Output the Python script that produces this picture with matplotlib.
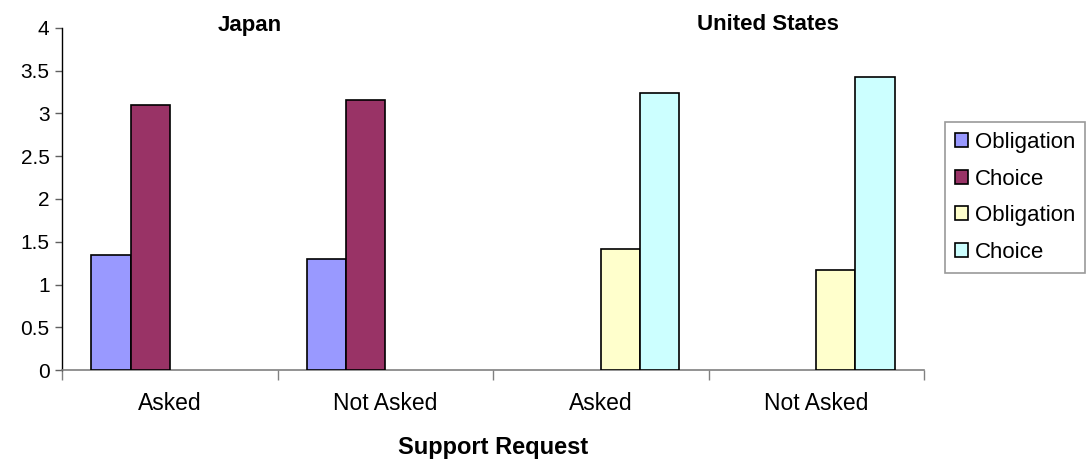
import numpy as np
import matplotlib
matplotlib.use("Agg")
import matplotlib.pyplot as plt

categories = ["Asked", "Not Asked", "Asked", "Not Asked"]
series_labels = ["Obligation", "Choice", "Obligation", "Choice"]
japan_obligation = [1.34, 1.30, np.nan, np.nan]
japan_choice = [3.10, 3.16, np.nan, np.nan]
us_obligation = [np.nan, np.nan, 1.42, 1.17]
us_choice = [np.nan, np.nan, 3.24, 3.43]
series_colors = ["#9999FF", "#993366", "#FFFFCC", "#CCFFFF"]
group_titles = ["Japan", "United States"]
x_title = "Support Request"
y_ticks = [0, 0.5, 1, 1.5, 2, 2.5, 3, 3.5, 4]

plt.rcParams["font.family"] = ["Liberation Sans", "DejaVu Sans"]

W, H = 1087, 461
fig = plt.figure(figsize=(W / 100, H / 100), dpi=100)
ax = fig.add_axes([62 / W, 1 - 370 / H, (924 - 62) / W, (370 - 28) / H])

all_series = [japan_obligation, japan_choice, us_obligation, us_choice]
n = len(all_series)
bw = 1 / 5.5
x = np.arange(len(categories))
handles = []
for i, (vals, col, lab) in enumerate(zip(all_series, series_colors, series_labels)):
    vals = np.array(vals, dtype=float)
    mask = ~np.isnan(vals)
    offs = (i - (n - 1) / 2) * bw
    b = ax.bar(x[mask] + offs, vals[mask], width=bw, color=col,
               edgecolor="black", linewidth=1.2, label=lab, zorder=3)
    handles.append(b)

ax.set_xlim(-0.5, len(categories) - 0.5)
ax.set_ylim(0, 4)
ax.set_yticks(y_ticks)
ax.set_yticklabels([f"{v:g}" for v in y_ticks], fontsize=15)
ax.tick_params(axis="y", direction="out", length=5, width=1, color="#606060", pad=4)

ax.set_xticks(np.arange(-0.5, len(categories)), minor=False)
ax.set_xticklabels([])
ax.set_xticks(x, minor=True)
ax.set_xticklabels(categories, minor=True, fontsize=16.5)
ax.tick_params(axis="x", which="major", direction="out", length=7, width=1, color="#808080")
ax.tick_params(axis="x", which="minor", length=0, pad=16)

for s in ["top", "right"]:
    ax.spines[s].set_visible(False)
ax.spines["left"].set_color("black")
ax.spines["left"].set_linewidth(1)
ax.spines["bottom"].set_color("#808080")
ax.spines["bottom"].set_linewidth(1.2)

fig.text(493 / W, 1 - 447 / H, x_title, fontsize=17, fontweight="bold",
         ha="center", va="center")

fig.text(250 / W, 1 - 25 / H, group_titles[0], fontsize=16, fontweight="bold",
         ha="center", va="center")
fig.text(768 / W, 1 - 25 / H, group_titles[1], fontsize=16, fontweight="bold",
         ha="center", va="center")

leg = fig.legend(handles=handles, labels=series_labels, loc="upper left",
                 bbox_to_anchor=(945 / W, 1 - 122 / H), fontsize=16,
                 frameon=True, fancybox=False, edgecolor="#808080",
                 handlelength=0.6, handleheight=0.6, handletextpad=0.3,
                 labelspacing=0.7, borderpad=0.45, borderaxespad=0)
leg.get_frame().set_linewidth(1.2)

fig.savefig("out.png", dpi=100)
